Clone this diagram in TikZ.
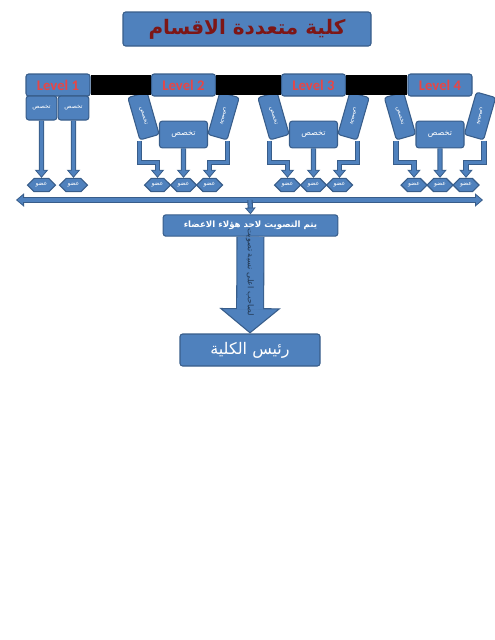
\documentclass[tikz,border=0pt]{standalone}
\usepackage{fontspec}
\setmainfont{Carlito}
\newfontfamily\arabicfont[Script=Arabic]{DejaVu Sans}
\TeXXeTstate=1
\usetikzlibrary{arrows.meta,positioning,shapes.symbols}
\definecolor{boxfill}{RGB}{79,129,189}
\definecolor{boxline}{RGB}{56,93,138}
\definecolor{lvlred}{RGB}{232,70,70}
\definecolor{titlered}{RGB}{125,22,22}
\newcommand{\artxt}[1]{{\arabicfont\beginR #1\endR}}

\begin{document}
\begin{tikzpicture}[x=0.75pt,y=-0.75pt,
  box/.style={draw=boxline, fill=boxfill, rounded corners=2pt, line width=0.8pt, inner sep=1pt, text=white},
  lvl/.style={box, minimum width=48pt, minimum height=16.5pt, text=lvlred, font=\bfseries\fontsize{11}{11}\selectfont},
  sub/.style={box, minimum width=23pt, minimum height=18pt, font=\fontsize{4.5}{5}\selectfont},
  tilt/.style={box, minimum width=33pt, minimum height=15pt, font=\fontsize{4.5}{5}\selectfont},
  hex/.style={signal, signal to=east and west, draw=boxline, fill=boxfill, line width=0.8pt,
    minimum width=19.5pt, minimum height=10pt, inner sep=0pt, text=white, font=\fontsize{4.5}{5}\selectfont},
  bar/.style={black, line width=15pt},
  arr/.style={draw=boxline, line width=4pt, -{Triangle[length=6pt,width=10pt,line width=0.6pt,fill=boxfill]},
    postaction={draw=boxfill, line width=2.4pt, -, shorten >=5pt}},
  harr/.style={draw=boxline, line width=4pt,
    {Triangle[length=6pt,width=10pt,line width=0.6pt,fill=boxfill]}-{Triangle[length=6pt,width=10pt,line width=0.6pt,fill=boxfill]},
    postaction={draw=boxfill, line width=2.4pt, -, shorten >=5pt, shorten <=5pt}},
  bigarr/.style={draw=boxline, line width=21pt, -{Triangle[length=19pt,width=46pt,line width=0.8pt,fill=boxfill]},
    postaction={draw=boxfill, line width=19.4pt, -, shorten >=18pt}}]
\useasboundingbox (0,0) rectangle (495,640);

% title
\node[box, minimum width=186pt, minimum height=25.5pt, text=titlered, font=\fontsize{15}{15}\selectfont\bfseries]
  (title) at (247,29) {\artxt{كلية متعددة الاقسام}};

% level 1
\node[lvl] (l1) at (58,85) {Level 1};
\node[sub] (s1a) at (41.5,108) {\artxt{تخصص}};
\node[sub] (s1b) at (73.5,108) {\artxt{تخصص}};
\node[hex, minimum width=21pt] (h1a) at (41.5,185) {\artxt{عضو}};
\node[hex, minimum width=21pt] (h1b) at (73.5,185) {\artxt{عضو}};
\draw[arr] (s1a) -- (h1a);
\draw[arr] (s1b) -- (h1b);

% levels 2-4
\foreach \i/\cx in {2/183.5,3/313.5,4/440} {
  \node[lvl] (l\i) at (\cx,85) {Level \i};
  \node[tilt, rotate=-74] (tl\i) at (\cx-40,116) {\artxt{تخصص}};
  \node[tilt, rotate=-106] (tr\i) at (\cx+40,116) {\artxt{تخصص}};
  \node[box, minimum width=36pt, minimum height=20pt, font=\fontsize{6}{6}\selectfont] (c\i) at (\cx,134.5) {\artxt{تخصص}};
  \node[hex] (h\i a) at (\cx-26,185) {\artxt{عضو}};
  \node[hex] (h\i b) at (\cx,185) {\artxt{عضو}};
  \node[hex] (h\i c) at (\cx+26,185) {\artxt{عضو}};
  \draw[arr] (tl\i.south east) -- ++(0,22) -| (h\i a.north);
  \draw[arr] (c\i) -- (h\i b);
  \draw[arr] (tr\i.north east) -- ++(0,22) -| (h\i c.north);
}

\draw[bar] (l1.east) -- (l2.west);
\draw[bar] (l2.east) -- (l3.west);
\draw[bar] (l3.east) -- (l4.west);

% voting
\coordinate (bl) at (16,200);
\coordinate (br) at (483,200);
\coordinate (bm) at (250,200);
\draw[harr] (bl) -- (br);
\node[box, minimum width=131pt, minimum height=16pt, font=\fontsize{6.5}{7}\selectfont\bfseries]
  (vote) at (250.5,225.5) {\artxt{يتم التصويت لاحد هؤلاء الاعضاء}};
\draw[arr, -{Triangle[length=5pt,width=8pt,line width=0.6pt,fill=boxfill]}] (bm) -- (vote.north);

\node[box, minimum width=105pt, minimum height=24pt, font=\fontsize{12}{12}\selectfont]
  (dean) at (250,350) {\artxt{رئيس الكلية}};
\draw[bigarr] (vote.south) -- (dean.north);
\node[rotate=-90, text=boxline!60!black, font=\fontsize{6}{6}\selectfont] (note) at (250,272) {\artxt{لصاحب اعلى نسبة تصويت}};
\end{tikzpicture}
\end{document}
